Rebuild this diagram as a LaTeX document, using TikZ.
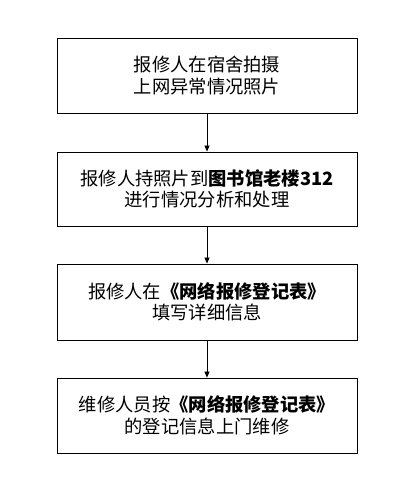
\documentclass[tikz,border=0pt]{standalone}
\usepackage{fontspec}
\newfontfamily\cjk{Noto Sans CJK SC}
\usetikzlibrary{arrows.meta}
\begin{document}
\begin{tikzpicture}[x=1pt,y=1pt,
  stepbox/.style={draw=black,line width=0.8pt,minimum width=300pt,minimum height=75pt,
    align=center,inner sep=0pt,font=\cjk\fontsize{18.3}{21.5}\selectfont},
  flow/.style={draw=black,line width=0.8pt,-{Triangle[length=6pt,width=5pt]}}]
\useasboundingbox (0,0) rectangle (416,492);
\node[stepbox] (s1) at (207,416.5) {报修人在宿舍拍摄\\上网异常情况照片};
\node[stepbox,minimum height=74pt] (s2) at (207,303) {报修人持照片到\textbf{图书馆老楼312}\\进行情况分析和处理};
\node[stepbox,minimum height=76pt] (s3) at (207,190) {报修人在\textbf{《网络报修登记表》}\\填写详细信息};
\node[stepbox] (s4) at (207,76.5) {维修人员按\textbf{《网络报修登记表》}\\的登记信息上门维修};
\draw[flow] (s1) -- (s2);
\draw[flow] (s2) -- (s3);
\draw[flow] (s3) -- (s4);
\end{tikzpicture}
\end{document}
